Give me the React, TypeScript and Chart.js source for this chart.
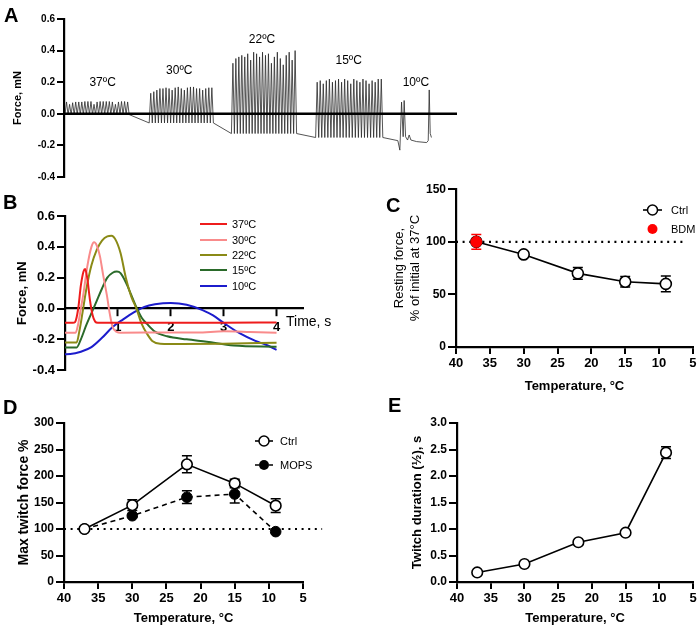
import React, { useEffect, useRef } from 'react';
import { Chart, registerables } from 'chart.js';

Chart.register(...registerables);

const FONT = "Arial, 'Liberation Sans', Helvetica, sans-serif";

// ================= Panel A : raw force trace (time in a.u., force in mN) =================
const A_PEAKS_37 = [0.075, 0.06, 0.07, 0.075, 0.075, 0.075, 0.078, 0.078, 0.078, 0.06, 0.075, 0.078, 0.078, 0.078, 0.078, 0.075, 0.06, 0.075, 0.078, 0.078, 0.075];
const A_PEAKS_30 = [0.13, 0.14, 0.15, 0.16, 0.16, 0.165, 0.16, 0.15, 0.165, 0.17, 0.16, 0.15, 0.165, 0.17, 0.17, 0.16, 0.16, 0.15, 0.16, 0.165, 0.165];
const A_PEAKS_22 = [0.32, 0.35, 0.36, 0.37, 0.36, 0.38, 0.34, 0.39, 0.38, 0.36, 0.39, 0.37, 0.38, 0.32, 0.36, 0.39, 0.35, 0.31, 0.37, 0.39, 0.34, 0.4];
const A_PEAKS_15 = [0.2, 0.21, 0.19, 0.21, 0.22, 0.2, 0.21, 0.22, 0.2, 0.22, 0.21, 0.19, 0.22, 0.21, 0.2, 0.22, 0.21, 0.19, 0.21, 0.2, 0.22, 0.22];
const A_BLOCK_START = [1, 85, 167, 251];
const A_BLOCK_END = [65, 149, 232, 318];
const A_BLOCK_TROUGH = [-0.005, -0.058, -0.125, -0.15];
const A_TAIL_T = [333, 335, 336.7, 338.3, 339.3, 340.7, 342.7, 344.3, 346, 351.7, 361.7, 363.3, 364.3, 365.3, 366.5];
const A_TAIL_F = [-0.17, -0.23, 0.074, -0.145, 0.084, -0.145, -0.166, -0.134, -0.166, -0.176, -0.182, -0.17, 0.151, -0.124, -0.15];
const A_LABELS = ['37ºC', '30ºC', '22ºC', '15ºC', '10ºC'];
const A_LABEL_T = [38.5, 115, 197.5, 284, 351];
const A_LABEL_F = [0.197, 0.27, 0.466, 0.334, 0.197];
const A_T_MAX = 392;

// ================= Panel B : single twitches =================
const B_LABELS = ['37ºC', '30ºC', '22ºC', '15ºC', '10ºC'];
const B_T_37 = [0, 0.15, 0.19, 0.25, 0.3, 0.35, 0.38, 0.42, 0.47, 0.52, 0.57, 0.62, 1, 2, 3, 4];
const B_F_37 = [-0.093, -0.093, -0.088, 0.0, 0.15, 0.24, 0.256, 0.2, 0.06, -0.04, -0.085, -0.093, -0.093, -0.092, -0.093, -0.09];
const B_T_30 = [0, 0.2, 0.25, 0.3, 0.35, 0.42, 0.5, 0.55, 0.6, 0.66, 0.72, 0.79, 0.85, 0.9, 0.98, 1.05, 2, 2.5, 3, 3.5, 4];
const B_F_30 = [-0.157, -0.157, -0.1, 0.0, 0.1, 0.27, 0.4, 0.43, 0.41, 0.34, 0.22, 0.09, -0.04, -0.12, -0.152, -0.157, -0.155, -0.155, -0.148, -0.152, -0.157];
const B_T_22 = [0, 0.22, 0.27, 0.33, 0.4, 0.5, 0.6, 0.7, 0.8, 0.88, 0.95, 1.05, 1.15, 1.25, 1.35, 1.45, 1.55, 1.65, 1.8, 2.2, 3, 4];
const B_F_22 = [-0.22, -0.22, -0.15, -0.03, 0.12, 0.28, 0.38, 0.44, 0.468, 0.472, 0.45, 0.36, 0.2, 0.08, 0.0, -0.1, -0.163, -0.21, -0.228, -0.23, -0.228, -0.222];
const B_T_15 = [0, 0.22, 0.3, 0.4, 0.5, 0.6, 0.7, 0.8, 0.9, 0.98, 1.05, 1.15, 1.25, 1.36, 1.45, 1.55, 1.7, 1.93, 2.3, 2.68, 3.19, 4];
const B_F_15 = [-0.252, -0.252, -0.2, -0.11, -0.03, 0.05, 0.13, 0.2, 0.232, 0.24, 0.23, 0.17, 0.09, 0.0, -0.06, -0.1, -0.15, -0.18, -0.2, -0.216, -0.24, -0.248];
const B_T_10 = [0, 0.1, 0.3, 0.5, 0.7, 0.9, 1.1, 1.3, 1.5, 1.7, 2.0, 2.3, 2.6, 2.8, 3.0, 3.3, 3.6, 3.8, 4.0];
const B_F_10 = [-0.296, -0.295, -0.28, -0.25, -0.19, -0.12, -0.07, -0.025, 0.01, 0.027, 0.036, 0.025, -0.01, -0.045, -0.093, -0.16, -0.21, -0.235, -0.268];

// ================= Panels C, D, E : vs temperature =================
const TEMPS = [37, 30, 22, 15, 9];
const C_CTRL = [100, 88, 70, 62, 60];
const C_CTRL_ERR = [0, 2, 5.5, 5, 7.5];
const C_BDM_T = [37];
const C_BDM = [100];
const C_BDM_ERR = [7];
const D_CTRL = [100, 145, 222, 186, 144];
const D_CTRL_ERR = [0, 10, 16, 8, 13];
const D_MOPS = [100, 125, 160, 166, 95];
const D_MOPS_ERR = [0, 3, 12, 17, 0];
const E_DUR = [0.18, 0.34, 0.75, 0.93, 2.44];
const E_DUR_ERR = [0.02, 0.03, 0.03, 0.04, 0.11];
const REF_LEVEL = 100;

// ---------------- styles ----------------
const B_COLORS = ['#ee1c1c', '#f98b8b', '#8a8a16', '#2a6a2a', '#1c1ccc'];

const pts = (xs: number[], ys: number[]) => xs.map((x, i) => ({ x, y: ys[i] }));
const fmt1 = (v: any) => {
  let r = Math.round(Number(v) * 10) / 10;
  if (Math.abs(r) < 1e-9) r = 0;
  return r.toFixed(1);
};
const fmt0 = (v: any) => String(Math.round(Number(v)));

function buildTrace() {
  const out: { x: number; y: number }[] = [];
  const blocks = [A_PEAKS_37, A_PEAKS_30, A_PEAKS_22, A_PEAKS_15];
  blocks.forEach((peaks, b) => {
    const s = A_BLOCK_START[b];
    const e = A_BLOCK_END[b];
    const tr = A_BLOCK_TROUGH[b];
    const dt = (e - s) / peaks.length;
    peaks.forEach((p, i) => {
      out.push({ x: s + i * dt, y: tr });
      out.push({ x: s + (i + 0.5) * dt, y: p });
    });
    out.push({ x: e, y: tr });
  });
  A_TAIL_T.forEach((t, i) => out.push({ x: t, y: A_TAIL_F[i] }));
  return out;
}

function makePlugin(cfg: any) {
  return {
    id: 'extras',
    beforeDatasetsDraw(chart: any) {
      const ctx = chart.ctx;
      const ys = chart.scales.y;
      (cfg.errs || []).forEach((e: any) => {
        const meta = chart.getDatasetMeta(e.ds);
        const data = chart.data.datasets[e.ds].data;
        ctx.save();
        ctx.strokeStyle = e.color;
        ctx.lineWidth = 1.5;
        meta.data.forEach((el: any, i: number) => {
          const d = e.err[i];
          if (!d) return;
          const v = data[i].y;
          const x = el.x;
          const y1 = ys.getPixelForValue(v + d);
          const y2 = ys.getPixelForValue(v - d);
          ctx.beginPath();
          ctx.moveTo(x, y1);
          ctx.lineTo(x, y2);
          ctx.moveTo(x - e.cap, y1);
          ctx.lineTo(x + e.cap, y1);
          ctx.moveTo(x - e.cap, y2);
          ctx.lineTo(x + e.cap, y2);
          ctx.stroke();
        });
        ctx.restore();
      });
    },
    afterDatasetsDraw(chart: any) {
      const ctx = chart.ctx;
      (cfg.dataTexts || []).forEach((t: any) => {
        ctx.save();
        ctx.font = t.font;
        ctx.fillStyle = '#000';
        ctx.textAlign = 'center';
        ctx.textBaseline = 'middle';
        ctx.fillText(t.text, chart.scales.x.getPixelForValue(t.x), chart.scales.y.getPixelForValue(t.y));
        ctx.restore();
      });
      (cfg.texts || []).forEach((t: any) => {
        ctx.save();
        ctx.font = t.font;
        ctx.fillStyle = '#000';
        ctx.textAlign = t.align || 'left';
        ctx.textBaseline = 'middle';
        ctx.fillText(t.text, t.x, t.y);
        ctx.restore();
      });
      (cfg.legend || []).forEach((l: any) => {
        ctx.save();
        if (l.line) {
          ctx.strokeStyle = l.color;
          ctx.lineWidth = l.lineWidth;
          ctx.setLineDash(l.dash || []);
          ctx.beginPath();
          ctx.moveTo(l.x0, l.y);
          ctx.lineTo(l.x1, l.y);
          ctx.stroke();
          ctx.setLineDash([]);
        }
        if (l.marker) {
          ctx.beginPath();
          ctx.arc((l.x0 + l.x1) / 2, l.y, l.marker.r, 0, Math.PI * 2);
          ctx.fillStyle = l.marker.fill;
          ctx.fill();
          if (l.marker.stroke) {
            ctx.strokeStyle = l.marker.stroke;
            ctx.lineWidth = 1.5;
            ctx.stroke();
          }
        }
        ctx.font = l.font;
        ctx.fillStyle = '#000';
        ctx.textAlign = 'left';
        ctx.textBaseline = 'middle';
        ctx.fillText(l.text, l.tx, l.y + 0.5);
        ctx.restore();
      });
    },
  };
}

const BORDER = { display: true, color: '#000', width: 2.2 };
const grid = (len: number) => ({
  drawOnChartArea: false,
  drawTicks: true,
  tickLength: len,
  tickWidth: 2,
  tickColor: '#000',
  color: '#000',
  lineWidth: 2,
});

function yScale(o: any) {
  return {
    type: 'linear',
    position: 'left',
    min: o.min,
    max: o.max,
    ticks: {
      stepSize: o.step,
      color: '#000',
      font: { family: FONT, size: o.fontSize, weight: 'bold' },
      padding: 2,
      autoSkip: false,
      callback: o.fmt,
    },
    grid: grid(o.tickLen || 7),
    border: BORDER,
    title: {
      display: true,
      text: o.title,
      color: '#000',
      font: { family: FONT, size: o.titleSize, weight: o.titleWeight || 'bold' },
      padding: { top: o.titlePad, bottom: 0 },
    },
    afterFit: (s: any) => {
      s.width = o.width;
    },
  };
}

function tempX(height: number, titlePadBottom: number) {
  return {
    type: 'linear',
    position: 'bottom',
    reverse: true,
    min: 5,
    max: 40,
    ticks: {
      stepSize: 5,
      color: '#000',
      font: { family: FONT, size: 13, weight: 'bold' },
      padding: 2,
      maxRotation: 0,
      autoSkip: false,
      callback: fmt0,
    },
    grid: grid(7),
    border: BORDER,
    title: {
      display: true,
      text: 'Temperature, °C',
      color: '#000',
      font: { family: FONT, size: 13, weight: 'bold' },
      padding: { top: 0, bottom: titlePadBottom },
    },
    afterFit: (s: any) => {
      s.height = height;
    },
  };
}

const baseOptions = (padding: any, scales: any) => ({
  responsive: false,
  maintainAspectRatio: false,
  animation: false,
  events: [],
  layout: { padding },
  plugins: { legend: { display: false }, tooltip: { enabled: false } },
  scales,
});

function makeA() {
  return {
    type: 'line',
    data: {
      datasets: [
        { data: [{ x: 0, y: 0 }, { x: A_T_MAX, y: 0 }], borderColor: '#000', borderWidth: 2.6, pointRadius: 0, tension: 0 },
        { data: buildTrace(), borderColor: '#2a2a2a', borderWidth: 0.8, pointRadius: 0, tension: 0 },
      ],
    },
    options: baseOptions(
      { top: 19, right: 13, bottom: 13, left: 0 },
      {
        x: { type: 'linear', display: false, min: 0, max: A_T_MAX },
        y: yScale({ min: -0.4, max: 0.6, step: 0.2, fontSize: 10, fmt: fmt1, width: 64, title: 'Force, mN', titleSize: 11, titlePad: 11, tickLen: 7 }),
      }
    ),
    plugins: [
      makePlugin({
        dataTexts: A_LABELS.map((t, i) => ({ text: t, x: A_LABEL_T[i], y: A_LABEL_F[i], font: `12px ${FONT}` })),
      }),
    ],
  };
}

function makeB() {
  const T = [B_T_37, B_T_30, B_T_22, B_T_15, B_T_10];
  const F = [B_F_37, B_F_30, B_F_22, B_F_15, B_F_10];
  const legendY = [34, 50, 65, 80, 96];
  return {
    type: 'line',
    data: {
      datasets: B_LABELS.map((lab, i) => ({
        label: lab,
        data: pts(T[i], F[i]),
        borderColor: B_COLORS[i],
        borderWidth: 2,
        pointRadius: 0,
        cubicInterpolationMode: 'monotone',
      })),
    },
    options: baseOptions(
      { top: 26, right: 47, bottom: 7, left: 0 },
      {
        x: {
          type: 'linear',
          position: { y: 0 },
          min: 0,
          max: 4.5,
          ticks: {
            stepSize: 1,
            includeBounds: false,
            color: '#000',
            font: { family: FONT, size: 13, weight: 'bold' },
            padding: 4,
            maxRotation: 0,
            callback: (v: any) => (Number(v) === 0 ? '' : fmt0(v)),
          },
          grid: {
            drawOnChartArea: false,
            drawTicks: true,
            tickLength: 7,
            tickWidth: 2,
            tickColor: (c: any) => (c.tick && c.tick.value === 0 ? 'rgba(0,0,0,0)' : '#000'),
          },
          border: BORDER,
        },
        y: yScale({ min: -0.4, max: 0.6, step: 0.2, fontSize: 13, fmt: fmt1, width: 65, title: 'Force, mN', titleSize: 13, titlePad: 15, tickLen: 8 }),
      }
    ),
    plugins: [
      makePlugin({
        texts: [{ text: 'Time, s', x: 286, y: 132, font: `14px ${FONT}` }],
        legend: B_LABELS.map((lab, i) => ({
          text: lab,
          x0: 200,
          x1: 227,
          y: legendY[i],
          tx: 232,
          line: true,
          color: B_COLORS[i],
          lineWidth: 2,
          font: `11px ${FONT}`,
        })),
      }),
    ],
  };
}

function makeC() {
  return {
    type: 'line',
    data: {
      datasets: [
        { label: 'BDM', data: pts(C_BDM_T, C_BDM), showLine: false, pointRadius: 5.5, pointBackgroundColor: '#ff0000', pointBorderColor: '#ff0000', pointBorderWidth: 1 },
        { label: 'Ctrl', data: pts(TEMPS, C_CTRL), borderColor: '#000', borderWidth: 1.6, pointRadius: 5.5, pointBackgroundColor: '#fff', pointBorderColor: '#000', pointBorderWidth: 1.6, tension: 0 },
        { label: 'ref', data: [{ x: 40, y: REF_LEVEL }, { x: 6.5, y: REF_LEVEL }], borderColor: '#000', borderWidth: 2.2, borderDash: [2, 4.6], pointRadius: 0 },
      ],
    },
    options: baseOptions(
      { top: 8, right: 7, bottom: 0, left: 0 },
      {
        x: tempX(48, 1),
        y: yScale({ min: 0, max: 150, step: 50, fontSize: 12, fmt: fmt0, width: 106, title: ['Resting force,', '% of initial at 37°C'], titleSize: 13, titleWeight: 'normal', titlePad: 42, tickLen: 8 }),
      }
    ),
    plugins: [
      makePlugin({
        errs: [
          { ds: 0, err: C_BDM_ERR, color: '#ff0000', cap: 5 },
          { ds: 1, err: C_CTRL_ERR, color: '#000', cap: 5 },
        ],
        legend: [
          { text: 'Ctrl', x0: 293, x1: 312, y: 30, tx: 321, line: true, color: '#000', lineWidth: 1.6, marker: { r: 5, fill: '#fff', stroke: '#000' }, font: `11px ${FONT}` },
          { text: 'BDM', x0: 293, x1: 312, y: 49, tx: 321, line: false, marker: { r: 5, fill: '#ff0000' }, font: `11px ${FONT}` },
        ],
      }),
    ],
  };
}

function makeD() {
  return {
    type: 'line',
    data: {
      datasets: [
        { label: 'Ctrl', data: pts(TEMPS, D_CTRL), borderColor: '#000', borderWidth: 1.6, pointRadius: 5.3, pointBackgroundColor: '#fff', pointBorderColor: '#000', pointBorderWidth: 1.6, tension: 0 },
        { label: 'MOPS', data: pts(TEMPS, D_MOPS), borderColor: '#000', borderWidth: 1.6, borderDash: [5, 4], pointRadius: 5.3, pointBackgroundColor: '#000', pointBorderColor: '#000', pointBorderWidth: 1, tension: 0 },
        { label: 'ref', data: [{ x: 40, y: REF_LEVEL }, { x: 2.2, y: REF_LEVEL }], borderColor: '#000', borderWidth: 2.2, borderDash: [2, 4.6], pointRadius: 0, clip: false },
      ],
    },
    options: baseOptions(
      { top: 43, right: 47, bottom: 0, left: 0 },
      {
        x: tempX(46, 2),
        y: yScale({ min: 0, max: 300, step: 50, fontSize: 12, fmt: fmt0, width: 64, title: 'Max twitch force %', titleSize: 14, titlePad: 15.6, tickLen: 8 }),
      }
    ),
    plugins: [
      makePlugin({
        errs: [
          { ds: 0, err: D_CTRL_ERR, color: '#000', cap: 5 },
          { ds: 1, err: D_MOPS_ERR, color: '#000', cap: 5 },
        ],
        legend: [
          { text: 'Ctrl', x0: 255, x1: 273, y: 61, tx: 280, line: true, color: '#000', lineWidth: 1.6, marker: { r: 5, fill: '#fff', stroke: '#000' }, font: `11px ${FONT}` },
          { text: 'MOPS', x0: 255, x1: 273, y: 85, tx: 280, line: true, color: '#000', lineWidth: 1.6, dash: [4, 3], marker: { r: 5, fill: '#000' }, font: `11px ${FONT}` },
        ],
      }),
    ],
  };
}

function makeE() {
  return {
    type: 'line',
    data: {
      datasets: [
        { label: 'duration', data: pts(TEMPS, E_DUR), borderColor: '#000', borderWidth: 1.6, pointRadius: 5.3, pointBackgroundColor: '#fff', pointBorderColor: '#000', pointBorderWidth: 1.6, tension: 0 },
      ],
    },
    options: baseOptions(
      { top: 43, right: 7, bottom: 0, left: 0 },
      {
        x: tempX(46, 2),
        y: yScale({ min: 0, max: 3, step: 0.5, fontSize: 12, fmt: fmt1, width: 107, title: 'Twitch duration (½), s', titleSize: 13, titlePad: 60, tickLen: 8 }),
      }
    ),
    plugins: [makePlugin({ errs: [{ ds: 0, err: E_DUR_ERR, color: '#000', cap: 5 }] })],
  };
}

function ChartBox(props: { left: number; top: number; width: number; height: number; make: () => any }) {
  const ref = useRef<HTMLCanvasElement | null>(null);
  useEffect(() => {
    const chart = new Chart(ref.current as HTMLCanvasElement, props.make());
    return () => chart.destroy();
  }, []);
  return (
    <div style={{ position: 'absolute', left: props.left, top: props.top, width: props.width, height: props.height }}>
      <canvas ref={ref} width={props.width} height={props.height} style={{ display: 'block', width: props.width, height: props.height }} />
    </div>
  );
}

const LETTERS = [
  { t: 'A', left: 4, top: 5 },
  { t: 'B', left: 3, top: 192 },
  { t: 'C', left: 386, top: 195 },
  { t: 'D', left: 3, top: 397 },
  { t: 'E', left: 388, top: 395 },
];

export default function App() {
  return (
    <div style={{ position: 'fixed', left: 0, top: 0, width: 700, height: 628, background: '#fff', overflow: 'hidden' }}>
      <ChartBox left={0} top={0} width={470} height={190} make={makeA} />
      <ChartBox left={0} top={190} width={350} height={190} make={makeB} />
      <ChartBox left={350} top={180} width={350} height={215} make={makeC} />
      <ChartBox left={0} top={380} width={350} height={248} make={makeD} />
      <ChartBox left={350} top={380} width={350} height={248} make={makeE} />
      {LETTERS.map((l) => (
        <div
          key={l.t}
          style={{ position: 'absolute', left: l.left, top: l.top, fontFamily: FONT, fontWeight: 'bold', fontSize: 20, lineHeight: '20px', color: '#000' }}
        >
          {l.t}
        </div>
      ))}
    </div>
  );
}
